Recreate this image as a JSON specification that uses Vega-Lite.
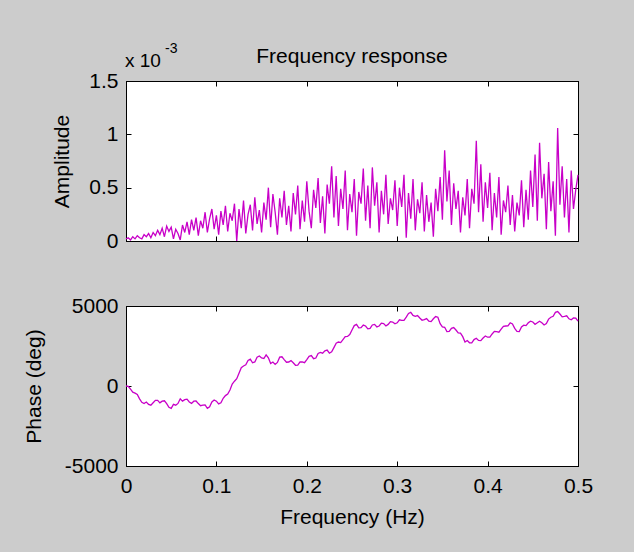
{
  "$schema": "https://vega.github.io/schema/vega-lite/v6.json",
  "background": "#cccccc",
  "padding": {"left": 22, "top": 41, "right": 56, "bottom": 24},
  "spacing": 42,
  "config": {
    "font": "Liberation Sans",
    "view": {"stroke": "#000000", "strokeWidth": 1, "fill": "#ffffff"},
    "axis": {"grid": false, "domainColor": "#000000", "tickColor": "#000000", "tickSize": -5, "labelFontSize": 21, "labelColor": "#000000", "titleFontSize": 21, "titleFontWeight": "normal", "titleColor": "#000000", "labelFont": "Liberation Sans", "titleFont": "Liberation Sans", "labelPadding": 13, "labelFlush": false},
    "axisX": {"labelPadding": 14},
    "title": {"fontSize": 21, "fontWeight": "normal", "color": "#000000", "font": "Liberation Sans"}
  },
  "datasets": {
    "amp": [
      {"f":0,"amp":0.00002},{"f":0.0025,"amp":0.00003},{"f":0.005,"amp":0.00001},{"f":0.0075,"amp":0.00004},{"f":0.01,"amp":0.00002},
      {"f":0.0125,"amp":0.00005},{"f":0.015,"amp":0.00003},{"f":0.0175,"amp":0.00002},{"f":0.02,"amp":0.00006},{"f":0.0225,"amp":0.00004},
      {"f":0.025,"amp":0.00007},{"f":0.0275,"amp":0.00003},{"f":0.03,"amp":0.00008},{"f":0.0325,"amp":0.00005},{"f":0.035,"amp":0.0001},
      {"f":0.0375,"amp":0.00006},{"f":0.04,"amp":0.00012},{"f":0.0425,"amp":0.00004},{"f":0.045,"amp":0.00014},{"f":0.0475,"amp":0.00009},
      {"f":0.05,"amp":0.00013},{"f":0.0525,"amp":0.00002},{"f":0.055,"amp":0.00011},{"f":0.0575,"amp":0.00007},{"f":0.06,"amp":0.00001},
      {"f":0.0625,"amp":0.00015},{"f":0.065,"amp":0.00008},{"f":0.0675,"amp":0.00018},{"f":0.07,"amp":0.00006},{"f":0.0725,"amp":0.0002},
      {"f":0.075,"amp":0.0001},{"f":0.0775,"amp":0.00022},{"f":0.08,"amp":0.00005},{"f":0.0825,"amp":0.00019},{"f":0.085,"amp":0.00012},
      {"f":0.0875,"amp":0.00027},{"f":0.09,"amp":0.00008},{"f":0.0925,"amp":0.00021},{"f":0.095,"amp":0.0003},{"f":0.0975,"amp":0.00011},
      {"f":0.1,"amp":0.00024},{"f":0.1025,"amp":0.00006},{"f":0.105,"amp":0.00028},{"f":0.1075,"amp":0.00015},{"f":0.11,"amp":0.00033},
      {"f":0.1125,"amp":0.00009},{"f":0.115,"amp":0.00026},{"f":0.1175,"amp":0.00019},{"f":0.12,"amp":0.00035},{"f":0.1225,"amp":0},
      {"f":0.125,"amp":0.0003},{"f":0.1275,"amp":0.00012},{"f":0.13,"amp":0.00038},{"f":0.1325,"amp":0.00007},{"f":0.135,"amp":0.00025},
      {"f":0.1375,"amp":0.00034},{"f":0.14,"amp":0.0001},{"f":0.1425,"amp":0.00041},{"f":0.145,"amp":0.00016},{"f":0.1475,"amp":0.00029},
      {"f":0.15,"amp":0.00008},{"f":0.1525,"amp":0.00036},{"f":0.155,"amp":0.0002},{"f":0.1575,"amp":0.0005},{"f":0.16,"amp":0.00013},
      {"f":0.1625,"amp":0.00044},{"f":0.165,"amp":0.00027},{"f":0.1675,"amp":0.00006},{"f":0.17,"amp":0.0004},{"f":0.1725,"amp":0.00022},
      {"f":0.175,"amp":0.00047},{"f":0.1775,"amp":0.00015},{"f":0.18,"amp":0.00033},{"f":0.1825,"amp":0.00009},{"f":0.185,"amp":0.00045},
      {"f":0.1875,"amp":0.00025},{"f":0.19,"amp":0.00052},{"f":0.1925,"amp":0.00011},{"f":0.195,"amp":0.00038},{"f":0.1975,"amp":0.00018},
      {"f":0.2,"amp":0.00056},{"f":0.2025,"amp":0.00028},{"f":0.205,"amp":0.00012},{"f":0.2075,"amp":0.00048},{"f":0.21,"amp":0.00031},
      {"f":0.2125,"amp":0.00059},{"f":0.215,"amp":0.00017},{"f":0.2175,"amp":0.00042},{"f":0.22,"amp":0.00007},{"f":0.2225,"amp":0.00053},
      {"f":0.225,"amp":0.00035},{"f":0.2275,"amp":0.0007},{"f":0.23,"amp":0.00022},{"f":0.2325,"amp":0.00061},{"f":0.235,"amp":0.00014},
      {"f":0.2375,"amp":0.00049},{"f":0.24,"amp":0.0003},{"f":0.2425,"amp":0.00066},{"f":0.245,"amp":0.0001},{"f":0.2475,"amp":0.00044},
      {"f":0.25,"amp":0.00027},{"f":0.2525,"amp":0.00058},{"f":0.255,"amp":0.00005},{"f":0.2575,"amp":0.00046},{"f":0.26,"amp":0.00035},
      {"f":0.2625,"amp":0.00068},{"f":0.265,"amp":0.00019},{"f":0.2675,"amp":0.00052},{"f":0.27,"amp":0.00012},{"f":0.2725,"amp":0.00069},
      {"f":0.275,"amp":0.00033},{"f":0.2775,"amp":0.00055},{"f":0.28,"amp":0.00008},{"f":0.2825,"amp":0.00047},{"f":0.285,"amp":0.00025},
      {"f":0.2875,"amp":0.00062},{"f":0.29,"amp":0.00016},{"f":0.2925,"amp":0.0004},{"f":0.295,"amp":0.00029},{"f":0.2975,"amp":0.00057},
      {"f":0.3,"amp":0.00014},{"f":0.3025,"amp":0.0005},{"f":0.305,"amp":0.00032},{"f":0.3075,"amp":0.00062},{"f":0.31,"amp":0.00003},
      {"f":0.3125,"amp":0.00045},{"f":0.315,"amp":0.00021},{"f":0.3175,"amp":0.00058},{"f":0.32,"amp":0.0001},{"f":0.3225,"amp":0.00039},
      {"f":0.325,"amp":0.00026},{"f":0.3275,"amp":0.00055},{"f":0.33,"amp":0.00009},{"f":0.3325,"amp":0.00043},{"f":0.335,"amp":0.00018},
      {"f":0.3375,"amp":0.00036},{"f":0.34,"amp":0.00004},{"f":0.3425,"amp":0.00049},{"f":0.345,"amp":0.00028},{"f":0.3475,"amp":0.0006},
      {"f":0.35,"amp":0.0002},{"f":0.3525,"amp":0.00085},{"f":0.355,"amp":0.00037},{"f":0.3575,"amp":0.00066},{"f":0.36,"amp":0.00015},
      {"f":0.3625,"amp":0.00054},{"f":0.365,"amp":0.0003},{"f":0.3675,"amp":0.00047},{"f":0.37,"amp":0.00008},{"f":0.3725,"amp":0.00041},
      {"f":0.375,"amp":0.00024},{"f":0.3775,"amp":0.00058},{"f":0.38,"amp":0.00012},{"f":0.3825,"amp":0.00049},{"f":0.385,"amp":0.00035},
      {"f":0.3875,"amp":0.00094},{"f":0.39,"amp":0.00027},{"f":0.3925,"amp":0.00072},{"f":0.395,"amp":0.00018},{"f":0.3975,"amp":0.00055},
      {"f":0.4,"amp":0.00031},{"f":0.4025,"amp":0.00064},{"f":0.405,"amp":0.0001},{"f":0.4075,"amp":0.00045},{"f":0.41,"amp":0.00022},
      {"f":0.4125,"amp":0.0006},{"f":0.415,"amp":0.00006},{"f":0.4175,"amp":0.00038},{"f":0.42,"amp":0.00027},{"f":0.4225,"amp":0.00052},
      {"f":0.425,"amp":0.00015},{"f":0.4275,"amp":0.00043},{"f":0.43,"amp":0.00009},{"f":0.4325,"amp":0.00036},{"f":0.435,"amp":0.00024},
      {"f":0.4375,"amp":0.00057},{"f":0.44,"amp":0.00013},{"f":0.4425,"amp":0.00048},{"f":0.445,"amp":0.0002},{"f":0.4475,"amp":0.00066},
      {"f":0.45,"amp":0.00032},{"f":0.4525,"amp":0.00081},{"f":0.455,"amp":0.00019},{"f":0.4575,"amp":0.00092},{"f":0.46,"amp":0.0004},
      {"f":0.4625,"amp":0.00063},{"f":0.465,"amp":0.00011},{"f":0.4675,"amp":0.00074},{"f":0.47,"amp":0.00028},{"f":0.4725,"amp":0.00056},
      {"f":0.475,"amp":0.00005},{"f":0.4775,"amp":0.00106},{"f":0.48,"amp":0.00034},{"f":0.4825,"amp":0.0007},{"f":0.485,"amp":0.00022},
      {"f":0.4875,"amp":0.00058},{"f":0.49,"amp":0.00008},{"f":0.4925,"amp":0.00066},{"f":0.495,"amp":0.0003},{"f":0.4975,"amp":0.00048},
      {"f":0.5,"amp":0.00062}
    ],
    "phase": [
      {"f":0,"deg":0},{"f":0.0025,"deg":-20},{"f":0.005,"deg":-200},{"f":0.0075,"deg":-385},{"f":0.01,"deg":-450},
      {"f":0.0125,"deg":-535},{"f":0.015,"deg":-800},{"f":0.0175,"deg":-1020},{"f":0.02,"deg":-1100},{"f":0.0225,"deg":-1005},
      {"f":0.025,"deg":-1150},{"f":0.0275,"deg":-1200},{"f":0.03,"deg":-1050},{"f":0.0325,"deg":-895},{"f":0.035,"deg":-900},
      {"f":0.0375,"deg":-1055},{"f":0.04,"deg":-950},{"f":0.0425,"deg":-925},{"f":0.045,"deg":-1100},{"f":0.0475,"deg":-1330},
      {"f":0.05,"deg":-1400},{"f":0.0525,"deg":-1150},{"f":0.055,"deg":-1200},{"f":0.0575,"deg":-1090},{"f":0.06,"deg":-800},
      {"f":0.0625,"deg":-945},{"f":0.065,"deg":-850},{"f":0.0675,"deg":-825},{"f":0.07,"deg":-1000},{"f":0.0725,"deg":-1085},
      {"f":0.075,"deg":-950},{"f":0.0775,"deg":-935},{"f":0.08,"deg":-1100},{"f":0.0825,"deg":-1230},{"f":0.085,"deg":-1200},
      {"f":0.0875,"deg":-1180},{"f":0.09,"deg":-1400},{"f":0.0925,"deg":-1300},{"f":0.095,"deg":-1000},{"f":0.0975,"deg":-875},
      {"f":0.1,"deg":-950},{"f":0.1025,"deg":-1120},{"f":0.105,"deg":-1050},{"f":0.1075,"deg":-765},{"f":0.11,"deg":-600},
      {"f":0.1125,"deg":-505},{"f":0.115,"deg":-250},{"f":0.1175,"deg":125},{"f":0.12,"deg":300},{"f":0.1225,"deg":460},
      {"f":0.125,"deg":800},{"f":0.1275,"deg":1145},{"f":0.13,"deg":1250},{"f":0.1325,"deg":1325},{"f":0.135,"deg":1600},
      {"f":0.1375,"deg":1675},{"f":0.14,"deg":1450},{"f":0.1425,"deg":1505},{"f":0.145,"deg":1800},{"f":0.1475,"deg":1875},
      {"f":0.15,"deg":1750},{"f":0.1525,"deg":1720},{"f":0.155,"deg":1950},{"f":0.1575,"deg":1765},{"f":0.16,"deg":1400},
      {"f":0.1625,"deg":1495},{"f":0.165,"deg":1350},{"f":0.1675,"deg":1475},{"f":0.17,"deg":1800},{"f":0.1725,"deg":1825},
      {"f":0.175,"deg":1650},{"f":0.1775,"deg":1485},{"f":0.18,"deg":1500},{"f":0.1825,"deg":1585},{"f":0.185,"deg":1450},
      {"f":0.1875,"deg":1295},{"f":0.19,"deg":1300},{"f":0.1925,"deg":1500},{"f":0.195,"deg":1500},{"f":0.1975,"deg":1455},
      {"f":0.2,"deg":1650},{"f":0.2025,"deg":1855},{"f":0.205,"deg":1900},{"f":0.2075,"deg":1705},{"f":0.21,"deg":1750},
      {"f":0.2125,"deg":2035},{"f":0.215,"deg":2100},{"f":0.2175,"deg":2050},{"f":0.22,"deg":2200},{"f":0.2225,"deg":2245},
      {"f":0.225,"deg":2050},{"f":0.2275,"deg":2135},{"f":0.23,"deg":2400},{"f":0.2325,"deg":2675},{"f":0.235,"deg":2750},
      {"f":0.2375,"deg":2715},{"f":0.24,"deg":2900},{"f":0.2425,"deg":3090},{"f":0.245,"deg":3100},{"f":0.2475,"deg":3220},
      {"f":0.25,"deg":3500},{"f":0.2525,"deg":3775},{"f":0.255,"deg":3850},{"f":0.2575,"deg":3630},{"f":0.26,"deg":3650},
      {"f":0.2625,"deg":3810},{"f":0.265,"deg":3750},{"f":0.2675,"deg":3575},{"f":0.27,"deg":3600},{"f":0.2725,"deg":3815},
      {"f":0.275,"deg":3850},{"f":0.2775,"deg":3690},{"f":0.28,"deg":3750},{"f":0.2825,"deg":3925},{"f":0.285,"deg":3900},
      {"f":0.2875,"deg":3755},{"f":0.29,"deg":3850},{"f":0.2925,"deg":4025},{"f":0.295,"deg":4000},{"f":0.2975,"deg":3885},
      {"f":0.3,"deg":3950},{"f":0.3025,"deg":4135},{"f":0.305,"deg":4100},{"f":0.3075,"deg":4100},{"f":0.31,"deg":4300},
      {"f":0.3125,"deg":4530},{"f":0.315,"deg":4600},{"f":0.3175,"deg":4415},{"f":0.32,"deg":4350},{"f":0.3225,"deg":4400},
      {"f":0.325,"deg":4250},{"f":0.3275,"deg":4110},{"f":0.33,"deg":4150},{"f":0.3325,"deg":4210},{"f":0.335,"deg":4050},
      {"f":0.3375,"deg":4025},{"f":0.34,"deg":4200},{"f":0.3425,"deg":4340},{"f":0.345,"deg":4300},{"f":0.3475,"deg":3900},
      {"f":0.35,"deg":3700},{"f":0.3525,"deg":3670},{"f":0.355,"deg":3400},{"f":0.3575,"deg":3410},{"f":0.36,"deg":3600},
      {"f":0.3625,"deg":3650},{"f":0.365,"deg":3500},{"f":0.3675,"deg":3320},{"f":0.37,"deg":3300},{"f":0.3725,"deg":3085},
      {"f":0.375,"deg":2750},{"f":0.3775,"deg":2845},{"f":0.38,"deg":2700},{"f":0.3825,"deg":2700},{"f":0.385,"deg":2900},
      {"f":0.3875,"deg":2985},{"f":0.39,"deg":2850},{"f":0.3925,"deg":2835},{"f":0.395,"deg":3000},{"f":0.3975,"deg":3125},
      {"f":0.4,"deg":3050},{"f":0.4025,"deg":3050},{"f":0.405,"deg":3250},{"f":0.4075,"deg":3415},{"f":0.41,"deg":3400},
      {"f":0.4125,"deg":3365},{"f":0.415,"deg":3550},{"f":0.4175,"deg":3730},{"f":0.42,"deg":3750},{"f":0.4225,"deg":3760},
      {"f":0.425,"deg":3950},{"f":0.4275,"deg":3875},{"f":0.43,"deg":3600},{"f":0.4325,"deg":3410},{"f":0.435,"deg":3400},
      {"f":0.4375,"deg":3690},{"f":0.44,"deg":3800},{"f":0.4425,"deg":3775},{"f":0.445,"deg":3950},{"f":0.4475,"deg":4055},
      {"f":0.45,"deg":4000},{"f":0.4525,"deg":3855},{"f":0.455,"deg":3950},{"f":0.4575,"deg":4050},{"f":0.46,"deg":3950},
      {"f":0.4625,"deg":3815},{"f":0.465,"deg":3900},{"f":0.4675,"deg":4180},{"f":0.47,"deg":4300},{"f":0.4725,"deg":4360},
      {"f":0.475,"deg":4600},{"f":0.4775,"deg":4650},{"f":0.48,"deg":4500},{"f":0.4825,"deg":4325},{"f":0.485,"deg":4350},
      {"f":0.4875,"deg":4385},{"f":0.49,"deg":4200},{"f":0.4925,"deg":4135},{"f":0.495,"deg":4250},{"f":0.4975,"deg":4240},
      {"f":0.5,"deg":4050}
    ]
  },
  "vconcat": [
    {
      "width": 452,
      "height": 160,
      "title": {"text": "Frequency response", "anchor": "middle", "offset": -25},
      "layer": [
        {
          "data": {"name": "amp"},
          "mark": {"type": "line", "color": "#c800c8", "strokeWidth": 1.3},
          "encoding": {
            "x": {"field": "f", "type": "quantitative", "scale": {"domain": [0, 0.5], "nice": false}, "axis": {"orient": "bottom", "values": [0, 0.1, 0.2, 0.3, 0.4, 0.5], "labels": false, "title": null}},
            "y": {"field": "amp", "type": "quantitative", "scale": {"domain": [0, 0.0015], "nice": false}, "axis": {"orient": "left", "values": [0, 0.0005, 0.001, 0.0015], "labelExpr": "format(datum.value * 1000, '.1~f')", "title": "Amplitude", "titlePadding": 16}}
          }
        },
        {
          "data": {"name": "amp"},
          "mark": {"type": "line", "strokeOpacity": 0},
          "encoding": {
            "x": {"field": "f", "type": "quantitative", "axis": {"orient": "top", "values": [0, 0.1, 0.2, 0.3, 0.4, 0.5], "labels": false, "title": null}},
            "y": {"field": "amp", "type": "quantitative", "axis": {"orient": "right", "values": [0, 0.0005, 0.001, 0.0015], "labels": false, "title": null}}
          }
        },
        {
          "data": {"values": [{"label": "x 10"}]},
          "mark": {"type": "text", "align": "left", "baseline": "alphabetic", "fontSize": 19, "dx": -1, "dy": -14, "color": "#000000"},
          "encoding": {
            "x": {"datum": 0, "type": "quantitative", "axis": null},
            "y": {"datum": 0.0015, "type": "quantitative", "axis": null},
            "text": {"field": "label"}
          }
        },
        {
          "data": {"values": [{"label": "-3"}]},
          "mark": {"type": "text", "align": "left", "baseline": "alphabetic", "fontSize": 14, "dx": 39, "dy": -28, "color": "#000000"},
          "encoding": {
            "x": {"datum": 0, "type": "quantitative", "axis": null},
            "y": {"datum": 0.0015, "type": "quantitative", "axis": null},
            "text": {"field": "label"}
          }
        }
      ],
      "resolve": {"axis": {"x": "independent", "y": "independent"}}
    },
    {
      "width": 452,
      "height": 160,
      "layer": [
        {
          "data": {"name": "phase"},
          "mark": {"type": "line", "color": "#c800c8", "strokeWidth": 1.3},
          "encoding": {
            "x": {"field": "f", "type": "quantitative", "scale": {"domain": [0, 0.5], "nice": false}, "axis": {"orient": "bottom", "values": [0, 0.1, 0.2, 0.3, 0.4, 0.5], "format": "~g", "title": "Frequency (Hz)", "titlePadding": 10}},
            "y": {"field": "deg", "type": "quantitative", "scale": {"domain": [-5000, 5000], "nice": false}, "axis": {"orient": "left", "values": [-5000, 0, 5000], "labelExpr": "datum.value < 0 ? '-' + format(-datum.value, 'd') : format(datum.value, 'd')", "title": "Phase (deg)", "titlePadding": 20}}
          }
        },
        {
          "data": {"name": "phase"},
          "mark": {"type": "line", "strokeOpacity": 0},
          "encoding": {
            "x": {"field": "f", "type": "quantitative", "axis": {"orient": "top", "values": [0, 0.1, 0.2, 0.3, 0.4, 0.5], "labels": false, "title": null}},
            "y": {"field": "deg", "type": "quantitative", "axis": {"orient": "right", "values": [-5000, 0, 5000], "labels": false, "title": null}}
          }
        }
      ],
      "resolve": {"axis": {"x": "independent", "y": "independent"}}
    }
  ]
}
